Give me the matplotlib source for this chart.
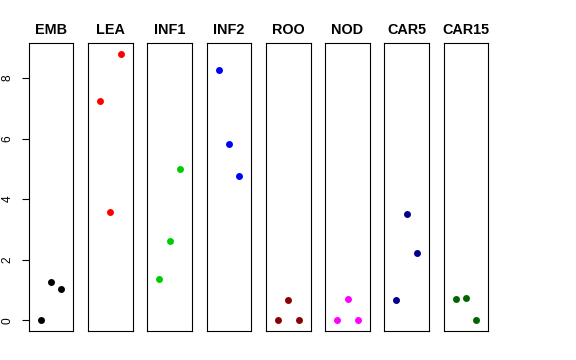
import matplotlib
matplotlib.use('Agg')
from matplotlib import pyplot as plt

plt.rcParams['font.family'] = ['Liberation Sans', 'DejaVu Sans']

groups = ['EMB', 'LEA', 'INF1', 'INF2', 'ROO', 'NOD', 'CAR5', 'CAR15']
colors = ['#000000', '#FF0000', '#00CD00', '#0000FF', '#8B0000', '#FF00FF',
          '#00008B', '#006400']
xpos = [1, 2, 3]
values = {
    'EMB': [0.0, 1.26, 1.03],
    'LEA': [7.25, 3.57, 8.8],
    'INF1': [1.36, 2.61, 4.99],
    'INF2': [8.26, 5.81, 4.77],
    'ROO': [0.0, 0.68, 0.0],
    'NOD': [0.0, 0.72, 0.0],
    'CAR5': [0.67, 3.52, 2.23],
    'CAR15': [0.72, 0.74, 0.0],
}
yticks = [0, 2, 4, 6, 8]

fig = plt.figure(figsize=(5.76, 3.6), dpi=100)
W, H = 576., 360.
left0 = 28.7
step = 59.3
pw = 44.6
top, bottom = 43., 331.

ymax = max(max(v) for v in values.values())
ymin = 0.
pad = 0.04 * (ymax - ymin)

for i, g in enumerate(groups):
    ax = fig.add_axes([(left0 + i * step) / W, (H - bottom) / H,
                       pw / W, (bottom - top) / H])
    ax.plot(xpos, values[g], 'o', color=colors[i], markersize=5,
            markeredgewidth=0)
    ax.set_xlim(-0.16, 4.16)
    ax.set_ylim(ymin - pad, ymax + pad)
    ax.set_xticks([])
    for s in ax.spines.values():
        s.set_linewidth(0.8)
    ax.set_title(g, fontsize=10.4, fontweight='bold', pad=6.5)
    if i == 0:
        ax.set_yticks(yticks)
        ax.set_yticklabels([str(t) for t in yticks], rotation=90,
                           va='center', fontsize=8.6)
        ax.tick_params(axis='y', length=5.4, width=0.8, pad=5.5)
    else:
        ax.set_yticks([])

plt.savefig('out.png', dpi=100)
